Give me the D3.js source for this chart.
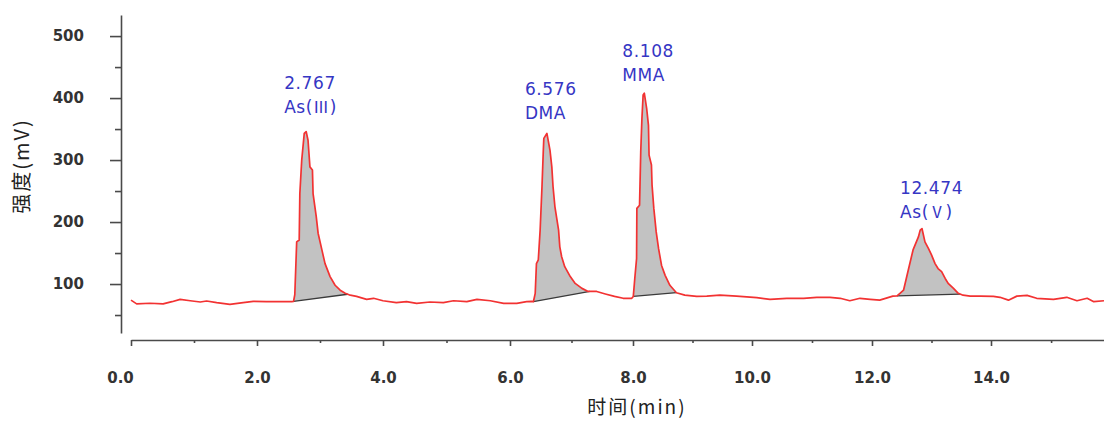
<!DOCTYPE html>
<html><head><meta charset="utf-8">
<script src="https://cdn.jsdelivr.net/npm/d3@7"></script>
<style>body{margin:0;background:#fff;overflow:hidden}</style>
</head><body>
<svg id="c" width="1104" height="421"></svg>
<script>
// ---- data (time in min, intensity in mV) ----
const times = [0.00,0.09,0.30,0.51,0.65,0.78,0.94,1.10,1.20,1.36,1.57,1.78,1.94,2.15,2.55,
  2.58,2.60,2.63,2.67,2.68,2.71,2.75,2.78,2.81,2.84,2.88,2.89,2.94,2.97,3.03,3.08,3.16,3.24,3.32,3.40,3.48,
  3.58,3.74,3.85,4.00,4.21,4.37,4.53,4.74,4.95,5.11,5.32,5.48,5.69,5.90,6.11,6.27,6.35,
  6.38,6.41,6.43,6.46,6.49,6.52,6.54,6.55,6.60,6.65,6.68,6.70,6.73,6.79,6.81,6.84,6.89,6.98,7.06,7.17,7.27,7.41,
  7.55,7.70,7.84,7.98,
  8.005,8.03,8.06,8.065,8.11,8.13,8.15,8.17,8.19,8.23,8.26,8.27,8.31,8.32,8.35,8.39,8.43,8.48,8.54,8.62,8.73,8.87,
  9.07,9.24,9.46,9.74,10.08,10.30,10.58,10.86,11.08,11.30,11.47,11.63,11.80,11.97,12.13,12.35,
  12.42,12.47,12.53,12.61,12.69,12.78,12.81,12.84,12.89,12.95,13.00,13.06,13.11,13.17,13.23,13.28,13.37,13.45,13.53,
  13.65,13.82,14.04,14.15,14.29,14.43,14.60,14.76,15.04,15.26,15.43,15.60,15.71,15.88];
const signal = [74,68,69,68,71.5,75.3,73,71,72.6,69.9,67.3,69.9,72,71.5,71.5,
  72,83,168,171,246,300,343,346,332,289,284,246,209,182,155,133,112,98,90,85,82,
  80,75.3,77,73,70,71.5,68.9,71,70,73,71.5,75.3,73,68.9,68.9,71.5,72,
  71.5,85,133,139,187,257,311,335,343,316,289,257,225,187,160,144,128,112,101,93,88,88,
  84,80,77,77,
  80,109,141,222,227,313,367,405,408,383,356,308,292,260,222,184,157,130,114,98,86,82,
  80,80.5,82,80.5,78,75.3,77,77,78.6,78.6,77,73,77,75.3,74,80.5,
  81,85,90,122.6,155,176,187,189.5,168,157,147,133,125,120,109,101,93,85,82,
  80.5,80.5,80,78.6,74,80.5,81.6,77,75.3,78.6,73,77,71.5,73];
const peakTimes = ["2.767","6.576","8.108","12.474"];
const peakSpecies = ["As","DMA","MMA","As"];
const peakValence = ["Ⅲ","","","Ⅴ"];
const peakStart = [2.58, 6.38, 8.005, 12.42];
const peakEnd   = [3.44, 7.30, 8.73, 13.48];
const xMajorTicks = [0,2,4,6,8,10,12,14];
const xMinorTicks = [1,3,5,7,9,11,13,15];
const yMajorTicks = [100,200,300,400,500];
const yMinorTicks = [50,150,250,350,450];
const xTitle = "时间(min)";
const yTitle = "强度(mV)";

// ---- layout ----
const labelGap = [19,14,12,11];
const svg = d3.select("#c");
const x = d3.scaleLinear().domain([0,2,4,6,8,10,12,14,15.88]).range([131,257,383,510,633,752,872,991,1104]);
const y = d3.scaleLinear().domain([21,534]).range([333,15]);
const axisColor = "#4a4a4a";
const tickFont = "DejaVu Sans, Verdana, sans-serif";

const pts = times.map((t,i)=>[t, signal[i]]);
const interp = t => {
  const i = d3.bisector(d=>d[0]).left(pts, t);
  if (i<=0) return pts[0][1];
  const a = pts[i-1], b = pts[i];
  return a[1] + (b[1]-a[1])*(t-a[0])/(b[0]-a[0]);
};

// ---- peak fills ----
peakStart.forEach((s,k)=>{
  const e = peakEnd[k];
  const vs = interp(s), ve = interp(e);
  const base = t => vs + (ve-vs)*(t-s)/(e-s);
  const seg = [[s,vs]].concat(pts.filter(p=>p[0]>s && p[0]<e)).concat([[e,ve]]);
  svg.append("path").datum(seg)
    .attr("d", d3.area().x(d=>x(d[0])).y0(d=>y(base(d[0]))).y1(d=>y(d[1])))
    .attr("fill","#c2c2c2").attr("stroke","none");
  svg.append("line")
    .attr("x1",x(s)).attr("y1",y(vs)).attr("x2",x(e)).attr("y2",y(ve))
    .attr("stroke","#3a3a3a").attr("stroke-width",1.3);
});

// ---- trace ----
svg.append("path").datum(pts)
  .attr("d", d3.line().x(d=>x(d[0])).y(d=>y(d[1])))
  .attr("fill","none").attr("stroke","#f23232").attr("stroke-width",1.7)
  .attr("stroke-linejoin","round");

// ---- axes ----
const gx = svg.append("g").attr("transform","translate(0,340)");
gx.call(d3.axisBottom(x).tickValues(xMajorTicks).tickSize(6).tickSizeOuter(0).tickPadding(26).tickFormat(d3.format(".1f")));
const gxm = svg.append("g").attr("transform","translate(0,340)");
gxm.call(d3.axisBottom(x).tickValues(xMinorTicks).tickSize(3).tickSizeOuter(0).tickFormat(""));
gxm.select(".domain").remove();
gx.selectAll(".tick text").filter(d=>d===0).attr("dx",-11);

const gy = svg.append("g").attr("transform","translate(121,0)");
gy.call(d3.axisLeft(y).tickValues(yMajorTicks).tickSize(11).tickSizeOuter(0).tickPadding(26).tickFormat(d3.format("d")));
const gym = svg.append("g").attr("transform","translate(121,0)");
gym.call(d3.axisLeft(y).tickValues(yMinorTicks).tickSize(6).tickSizeOuter(0).tickFormat(""));
gym.select(".domain").remove();

svg.selectAll(".domain").attr("stroke",axisColor).attr("stroke-width",1.6);
svg.selectAll(".tick line").attr("stroke",axisColor).attr("stroke-width",1.6);
svg.selectAll(".tick text").attr("fill","#333").attr("font-family",tickFont)
  .attr("font-size",15).attr("font-weight","bold");

// ---- titles ----
svg.append("text").text(xTitle)
  .attr("x",637).attr("y",414).attr("text-anchor","middle")
  .attr("font-family","Noto Sans CJK SC, sans-serif").attr("font-size",19)
  .attr("letter-spacing",2).attr("fill","#222");
svg.append("text").text(yTitle)
  .attr("transform","translate(29,166) rotate(-90)").attr("text-anchor","middle")
  .attr("font-family","Noto Sans CJK SC, sans-serif").attr("font-size",20)
  .attr("letter-spacing",2).attr("fill","#222");

// ---- peak labels ----
peakStart.forEach((s,k)=>{
  const seg = pts.filter(p=>p[0]>=s && p[0]<=peakEnd[k]);
  const apex = seg.reduce((a,b)=> b[1]>a[1]?b:a);
  const lx = x(apex[0]) - 22;
  const ly = y(apex[1]) - labelGap[k];
  const g = svg.append("g").attr("font-family",tickFont).attr("font-size",17)
    .attr("letter-spacing",0.6).attr("fill","#3636c4");
  g.append("text").attr("x",lx).attr("y",ly-24).text(peakTimes[k]);
  const t = g.append("text").attr("x",lx).attr("y",ly);
  t.append("tspan").text(peakSpecies[k]);
  if (peakValence[k]) {
    t.append("tspan").text("(");
    t.append("tspan").attr("font-family","Noto Sans CJK SC, sans-serif").attr("font-size",16).text(peakValence[k]);
    t.append("tspan").text(")");
  }
});
</script>
</body></html>
